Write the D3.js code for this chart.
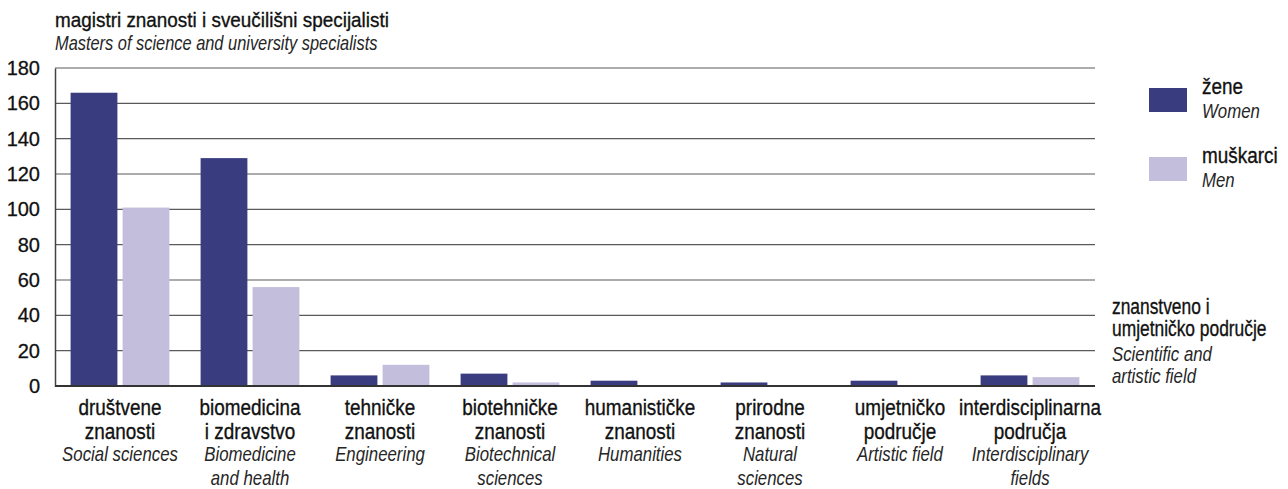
<!DOCTYPE html>
<html>
<head>
<meta charset="utf-8">
<script src="https://cdn.jsdelivr.net/npm/d3@7"></script>
<style>
  body { margin: 0; background: #fff; }
  text { font-family: "Liberation Sans", Arial, sans-serif; fill: #141414; }
</style>
</head>
<body>
<div class="chart"></div>
<script>
const width = 1288, height = 489;
const margin = {top: 68, right: 193, bottom: 103, left: 55};

// data
const categories = ["drustvene", "biomed", "tehnicke", "biotehn", "human", "prirodne", "umjet", "interdis"];
const labelsHr = [["društvene", "znanosti"], ["biomedicina", "i zdravstvo"], ["tehničke", "znanosti"],
  ["biotehničke", "znanosti"], ["humanističke", "znanosti"], ["prirodne", "znanosti"],
  ["umjetničko", "područje"], ["interdisciplinarna", "područja"]];
const labelsEn = [["Social sciences"], ["Biomedicine", "and health"], ["Engineering"],
  ["Biotechnical", "sciences"], ["Humanities"], ["Natural", "sciences"],
  ["Artistic field"], ["Interdisciplinary", "fields"]];
const women = [166, 129, 6, 7, 3, 2, 3, 6];
const men = [101, 56, 12, 2, 0, 0, 0, 5];
const series = ["women", "men"];
const seriesHr = ["žene", "muškarci"];
const seriesEn = ["Women", "Men"];
const colors = ["#393d7f", "#c4bedd"];
const yTicks = [0, 20, 40, 60, 80, 100, 120, 140, 160, 180];

const svg = d3.select(".chart").append("svg")
    .attr("width", width)
    .attr("height", height);

// condensed look: Liberation Sans squeezed horizontally
const styles = {
  hr: {size: 22, sx: 0.86, italic: false},
  en: {size: 20.5, sx: 0.82, italic: true},
  title: {size: 21, sx: 0.9, italic: false}
};
function addText(parent, x, y, str, kind, anchor, sx) {
  const st = styles[kind];
  const t = parent.append("text")
      .attr("transform", `translate(${x},${y}) scale(${sx || st.sx},1)`)
      .attr("text-anchor", anchor || "start")
      .style("font-size", st.size + "px")
      .style("font-style", st.italic ? "italic" : "normal")
      .style("fill", st.italic ? "#262626" : "#111")
      .text(str);
  if (!st.italic) t.style("stroke", "#111").style("stroke-width", 0.35);
  return t;
}

const x0 = d3.scaleBand()
    .domain(categories)
    .range([margin.left, width - margin.right])
    .paddingInner(0.24)
    .paddingOuter(0.12);
const x1 = d3.scaleBand()
    .domain(series)
    .range([0, x0.bandwidth()])
    .paddingInner(0.1);
const y = d3.scaleLinear()
    .domain([0, 180])
    .range([height - margin.bottom, margin.top]);

// grid
svg.append("g")
    .selectAll("line")
    .data(yTicks.filter(d => d > 0))
    .enter().append("line")
    .attr("x1", margin.left)
    .attr("x2", width - margin.right)
    .attr("y1", d => y(d))
    .attr("y2", d => y(d))
    .style("stroke", "#5a5a5a")
    .style("stroke-width", 1.2);

// y axis
const yAxis = svg.append("g")
    .attr("transform", `translate(${margin.left},0)`)
    .call(d3.axisLeft(y).tickValues(yTicks).tickSize(0).tickPadding(15));
yAxis.select(".domain").style("stroke", "#444").style("stroke-width", 1.5);
yAxis.selectAll("text")
    .style("font-size", "20px")
    .style("font-family", "'Liberation Sans', Arial, sans-serif")
    .style("fill", "#111")
    .style("stroke", "#111")
    .style("stroke-width", 0.3);

// bars
const groups = svg.append("g")
    .selectAll("g")
    .data(categories)
    .enter().append("g")
    .attr("transform", d => `translate(${x0(d)},0)`);
groups.selectAll("rect")
    .data((d, i) => [{key: "women", v: women[i]}, {key: "men", v: men[i]}])
    .enter().append("rect")
    .attr("x", d => x1(d.key))
    .attr("width", x1.bandwidth())
    .attr("y", d => y(d.v))
    .attr("height", d => y(0) - y(d.v))
    .style("fill", (d, i) => colors[i]);

// baseline
svg.append("line")
    .attr("x1", margin.left)
    .attr("x2", width - margin.right)
    .attr("y1", y(0))
    .attr("y2", y(0))
    .style("stroke", "#333")
    .style("stroke-width", 1.8);

// category labels
const xl = svg.append("g");
categories.forEach((c, i) => {
  const cx = x0(c) + x0.bandwidth() / 2;
  labelsHr[i].forEach((s, j) => addText(xl, cx, 415 + j * 24, s, "hr", "middle"));
  labelsEn[i].forEach((s, j) => addText(xl, cx, 461 + j * 24, s, "en", "middle"));
});

// title
addText(svg, 55, 27, "magistri znanosti i sveučilišni specijalisti", "title");
addText(svg, 55, 50, "Masters of science and university specialists", "en", "start", 0.8);

// legend
const legend = svg.append("g");
series.forEach((s, i) => {
  const ly = 88 + i * 69;
  legend.append("rect").attr("x", 1149).attr("y", ly).attr("width", 38).attr("height", 24)
      .style("fill", colors[i]);
  addText(legend, 1202, ly + 6, seriesHr[i], "hr");
  addText(legend, 1202, ly + 30, seriesEn[i], "en");
});

// x axis title
const xt = svg.append("g");
["znanstveno i", "umjetničko područje"].forEach((s, j) => addText(xt, 1112, 314 + j * 22, s, "hr", "start", 0.79));
["Scientific and", "artistic field"].forEach((s, j) => addText(xt, 1112, 361 + j * 22, s, "en"));
</script>
</body>
</html>
